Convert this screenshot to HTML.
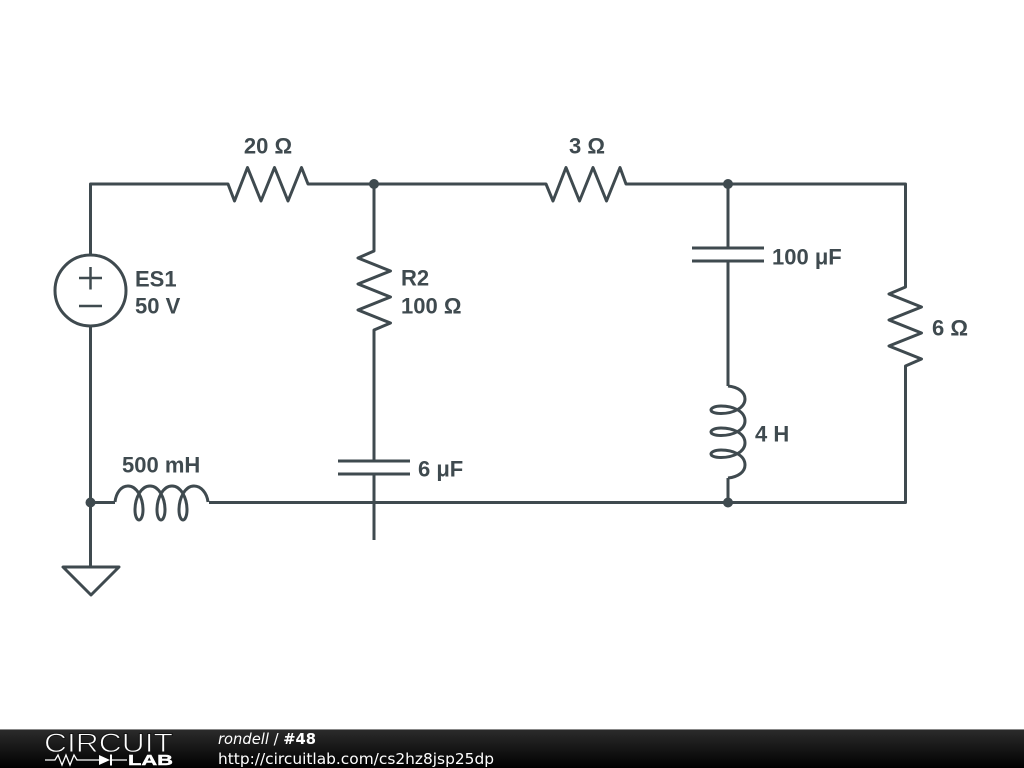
<!DOCTYPE html>
<html><head><meta charset="utf-8"><style>
html,body{margin:0;padding:0;background:#fff;width:1024px;height:768px;overflow:hidden}
svg{display:block}
.l{font-family:"Liberation Sans",sans-serif;font-weight:bold;font-size:22px;fill:#3f4a4f}
.d{font-family:"DejaVu Sans",sans-serif;font-size:15px;fill:#fff}
</style></head><body>
<svg width="1024" height="768" viewBox="0 0 1024 768" xmlns="http://www.w3.org/2000/svg">
<defs><linearGradient id="g" x1="0" y1="0" x2="0" y2="1"><stop offset="0" stop-color="#2c2c2c"/><stop offset="1" stop-color="#000"/></linearGradient></defs>
<rect width="1024" height="768" fill="#fff"/>
<g fill="none" stroke="#3f4a4f" stroke-width="3" stroke-linejoin="round">
<path d="M90.500 255V184H228L234.500 201L247.500 167.500L261 201L274.500 167.500L288 201L301.500 167.500L308 184H546L553 201L566 167.500L579.500 201L593 167.500L606.500 201L620 167.500L626 184H905.500V287L889 294L921.500 307L889 320L921.500 333L889 346L921.500 359L905.500 366V502.500H209"/>
<path d="M90.500 326.500V567"/>
<path d="M115 502.500H90.500"/>
<path d="M374 184V251L358 258L390.500 271L358 284L390.500 297L358 310L390.500 323L374 330V461"/>
<path d="M338 461H410M338 474H410M374 474V540"/>
<path d="M728 184V248M692 248H764M692 261H764M728 261V386"/>
<path d="M728 478V502.500M209 502.500H728"/>
<path d="M63 567H119L91 595Z"/>
<circle cx="90.500" cy="290.500" r="35.500"/>
<path d="M79 278H102M90.500 267V289.500M79 306H102" stroke-width="2.500"/>
<path d="M115 502C116 493 121 486 128 486C137 486 143 498 143 510C143 516 141 520 139 520C137 520 135 516 135 510C135 498 141 486 150 486C159 486 165 498 165 510C165 516 163 520 161 520C159 520 157 516 157 510C157 498 163 486 172 486C181 486 187 498 187 510C187 516 185 520 183 520C181 520 179 516 179 510C179 498 185 486 194 486C201 486 207 493 208 502"/>
<path d="M728 386C738 387 745 392 745 399C745 408 733 413.500 721 413.500C715 413.500 711 412 711 410C711 408 715 406 721 406C733 406 745 411 745 421C745 430 733 435.500 721 435.500C715 435.500 711 434 711 432C711 430 715 428 721 428C733 428 745 433 745 443C745 452 733 457.500 721 457.500C715 457.500 711 456 711 454C711 452 715 450 721 450C733 450 745 455 745 465C745 472 738 477 728 478"/>
</g>
<g fill="#3f4a4f"><circle cx="374" cy="184" r="5"/><circle cx="728" cy="184" r="5"/><circle cx="90.500" cy="502.500" r="5"/><circle cx="728" cy="502.500" r="5"/></g>
<text class="l" x="268" y="153.500" text-anchor="middle">20 Ω</text>
<text class="l" x="587" y="153.500" text-anchor="middle">3 Ω</text>
<text class="l" x="135" y="286.500">ES1</text><text class="l" x="135" y="313.500">50 V</text>
<text class="l" x="401" y="285.500">R2</text><text class="l" x="401" y="313.500">100 Ω</text>
<text class="l" x="772" y="264.500">100 μF</text>
<text class="l" x="932" y="335.500">6 Ω</text>
<text class="l" x="755" y="441.500">4 H</text>
<text class="l" x="418" y="476.500">6 μF</text>
<text class="l" x="122" y="472.500">500 mH</text>
<rect y="729" width="1024" height="39" fill="url(#g)"/>
<rect y="729" width="1024" height="1" fill="#888"/>
<text x="44" y="752" font-family="Liberation Sans,sans-serif" font-size="26.500" fill="#fff" stroke="#151515" stroke-width="0.900" textLength="129" lengthAdjust="spacingAndGlyphs">CIRCUIT</text>
<path d="M45 760H55L58 755L62 765L66 755L70 765L74 755L77 760H99M111 760H127" fill="none" stroke="#fff" stroke-width="1.300"/>
<path d="M99 755L110 760L99 765ZM110 754.500H112V765.500H110Z" fill="#fff"/>
<text x="128" y="765" font-family="Liberation Sans,sans-serif" font-size="14.500" font-weight="bold" stroke="#fff" stroke-width="0.400" fill="#fff" textLength="45" lengthAdjust="spacingAndGlyphs">LAB</text>
<text class="d" x="218" y="744" textLength="98" lengthAdjust="spacingAndGlyphs"><tspan font-style="italic">rondell</tspan> / <tspan font-weight="bold">#48</tspan></text>
<text class="d" x="218" y="764" textLength="276" lengthAdjust="spacingAndGlyphs">http://circuitlab.com/cs2hz8jsp25dp</text>
</svg>
</body></html>
